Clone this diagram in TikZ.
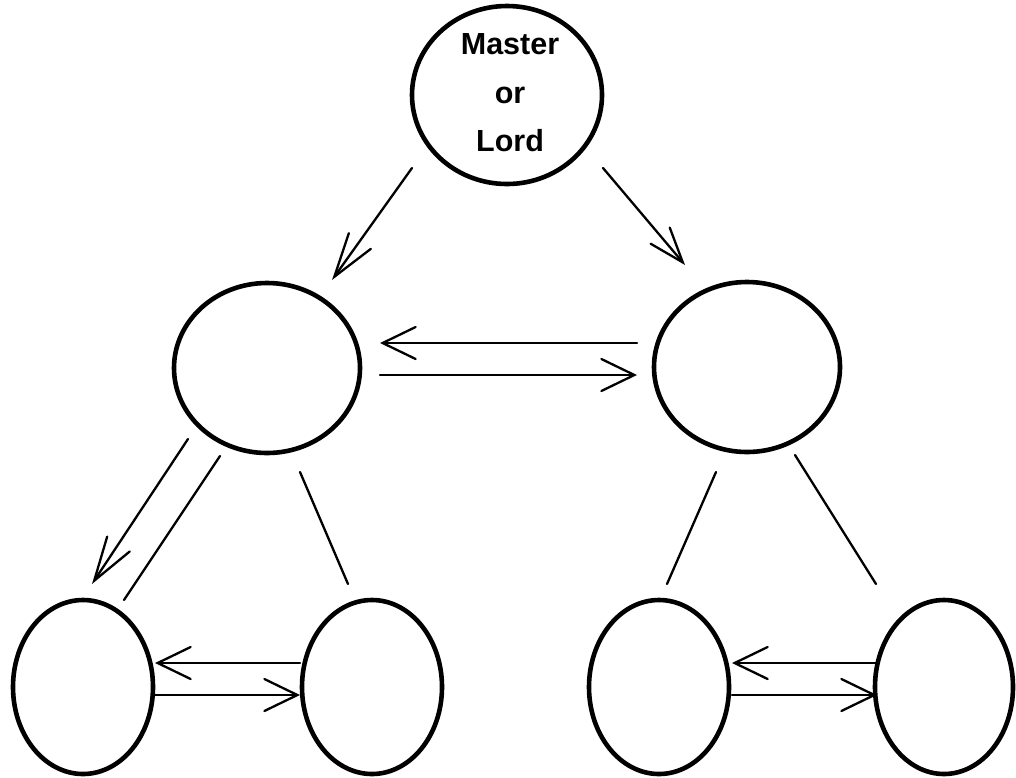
\documentclass[tikz,border=0pt]{standalone}
\usepackage{fontspec}
\setmainfont{Liberation Sans}
\usetikzlibrary{shapes.geometric,arrows.meta}
\tikzset{
  oval/.style={ellipse, draw, line width=4.6pt, inner sep=0pt},
  midoval/.style={oval, minimum width=186pt, minimum height=170pt},
  lowoval/.style={oval, minimum width=140pt, minimum height=174pt},
  conn/.style={line width=2.3pt, line cap=round},
  harrow/.style={conn, -{Straight Barb[length=33pt, width=32pt, line cap=round]}},
  darrow/.style={conn, -{Straight Barb[length=44pt, width=27pt, line cap=round]}},
  rarrow/.style={conn, -{Straight Barb[length=35pt, width=25pt, line cap=round]}},
  lbl/.style={font=\fontsize{30.5pt}{48.5pt}\selectfont\bfseries, align=center, inner sep=0pt}
}
\begin{document}
\begin{tikzpicture}[x=1pt,y=1pt]
\useasboundingbox (0,0) rectangle (1016,-777);
% nodes
\node[oval, minimum width=190pt, minimum height=178pt] (top) at (507,-95) {};
\node[lbl] (toplabel) at (510,-93) {Master\\or\\Lord};
\node[midoval] (ml) at (267,-368) {};
\node[midoval] (mr) at (747,-367) {};
\node[lowoval] (b1) at (83,-687) {};
\node[lowoval] (b2) at (372,-687) {};
\node[lowoval] (b3) at (659,-687) {};
\node[lowoval, minimum width=138pt] (b4) at (944,-687) {};
% connector end points
\coordinate (tl0) at (412,-168); \coordinate (tl1) at (332,-280);
\coordinate (tr0) at (603,-168); \coordinate (tr1) at (685,-265);
\coordinate (mu0) at (637,-343); \coordinate (mu1) at (380,-343);
\coordinate (md0) at (380,-375); \coordinate (md1) at (637,-375);
\coordinate (la0) at (188,-439); \coordinate (la1) at (92,-584);
\coordinate (ll0) at (220,-456); \coordinate (ll1) at (124,-600);
\coordinate (lr0) at (300,-472); \coordinate (lr1) at (348,-584);
\coordinate (rl0) at (716,-472); \coordinate (rl1) at (667,-584);
\coordinate (rr0) at (795,-455); \coordinate (rr1) at (876,-584);
\coordinate (au0) at (300,-663); \coordinate (au1) at (155,-663);
\coordinate (ad0) at (155,-695); \coordinate (ad1) at (300,-695);
\coordinate (cu0) at (877,-663); \coordinate (cu1) at (732,-663);
\coordinate (cd0) at (732,-695); \coordinate (cd1) at (877,-695);
% connectors
\draw[darrow] (tl0) -- (tl1);
\draw[rarrow] (tr0) -- (tr1);
\draw[harrow] (mu0) -- (mu1);
\draw[harrow] (md0) -- (md1);
\draw[darrow] (la0) -- (la1);
\draw[conn] (ll0) -- (ll1);
\draw[conn] (lr0) -- (lr1);
\draw[conn] (rl0) -- (rl1);
\draw[conn] (rr0) -- (rr1);
\draw[harrow] (au0) -- (au1);
\draw[harrow] (ad0) -- (ad1);
\draw[harrow] (cu0) -- (cu1);
\draw[harrow] (cd0) -- (cd1);
\end{tikzpicture}
\end{document}
